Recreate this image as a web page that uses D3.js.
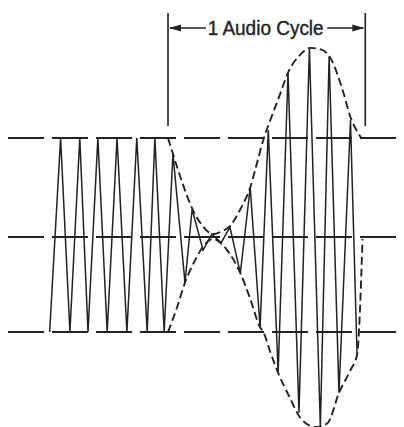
<!DOCTYPE html>
<html>
<head>
<meta charset="utf-8">
<script src="https://cdn.jsdelivr.net/npm/d3@7"></script>
<style>
  html, body { margin: 0; padding: 0; background: #fff; }
  svg { display: block; }
</style>
</head>
<body>
<div id="wrapper"></div>
<script>
// phase in degrees of the audio cycle (0..360 = "1 Audio Cycle"), level in carrier units
const carrierPhase = [-216, -196, -179, -161, -146, -128, -111, -93, -75, -57, -38, -24, -7,
  9, 31, 44, 64, 80, 97, 113, 132, 150, 168, 183, 201, 219, 239, 258, 278, 294, 312, 333, 345];
const carrierLevel = [-1, 1, -1, 1, -1, 1, -1, 1, -1, 1, -1, 1, -1,
  0.84, -0.48, 0.28, -0.14, 0.03, -0.06, 0.1, -0.38, 0.5, -0.95, 1.08, -1.43, 1.66, -1.85, 1.91, -2.0, 1.82, -1.64, 1.18, -1.24];

const upperPhase = [0, 9, 26, 44, 62, 82, 99, 113, 132, 150, 164, 175, 186, 203, 219, 241, 260, 281, 296, 320, 333, 347, 354];
const upperLevel = [1.0, 0.84, 0.55, 0.29, 0.12, 0.03, 0.06, 0.11, 0.28, 0.5, 0.78, 1.0, 1.17, 1.42, 1.66, 1.84, 1.91, 1.89, 1.81, 1.46, 1.21, 1.05, 0.99];

const lowerPhase = [0, 16, 31, 49, 64, 82, 99, 113, 132, 150, 168, 174, 186, 201, 223, 241, 269, 291, 312, 333, 345, 355];
const lowerLevel = [-1.0, -0.75, -0.48, -0.25, -0.1, -0.02, -0.08, -0.18, -0.38, -0.65, -0.95, -1.0, -1.2, -1.43, -1.7, -1.9, -2.0, -1.96, -1.64, -1.4, -1.24, -0.02];

const refLevels = [1, 0, -1];
const cyclePhases = [0, 360];
const cycleLabel = "1 Audio Cycle";

const width = 404;
const height = 427;

const svg = d3.select("#wrapper").append("svg")
  .attr("width", width)
  .attr("height", height);

const xScale = d3.scaleLinear().domain([-292, 427]).range([8, 402]);
const yScale = d3.scaleLinear().domain([-1, 0, 1]).range([332, 237, 138]);

const ink = "#222";

// dashed reference levels
svg.append("g")
  .selectAll("line")
  .data(refLevels)
  .join("line")
  .attr("x1", xScale.range()[0])
  .attr("x2", xScale.range()[1])
  .attr("y1", (d) => yScale(d))
  .attr("y2", (d) => yScale(d))
  .attr("stroke", ink)
  .attr("stroke-width", 1.8)
  .attr("stroke-dasharray", "36,8");

// carrier zigzag
const carrier = carrierPhase.map((p, i) => ({ p, v: carrierLevel[i] }));
const zigzag = d3.line()
  .x((d) => xScale(d.p))
  .y((d) => yScale(d.v));

svg.append("path")
  .attr("d", zigzag(carrier))
  .attr("fill", "none")
  .attr("stroke", ink)
  .attr("stroke-width", 1.5)
  .attr("stroke-linejoin", "miter");

// envelopes
const envLine = d3.line()
  .x((d) => xScale(d.p))
  .y((d) => yScale(d.v))
  .curve(d3.curveMonotoneX);

const upper = upperPhase.map((p, i) => ({ p, v: upperLevel[i] }));
const lower = lowerPhase.map((p, i) => ({ p, v: lowerLevel[i] }));

[upper, lower].forEach((env) => {
  svg.append("path")
    .attr("d", envLine(env))
    .attr("fill", "none")
    .attr("stroke", ink)
    .attr("stroke-width", 1.9)
    .attr("stroke-dasharray", "8,4");
});

// audio cycle bracket
const bracket = svg.append("g");
bracket.selectAll("line")
  .data(cyclePhases)
  .join("line")
  .attr("x1", (d) => xScale(d))
  .attr("x2", (d) => xScale(d))
  .attr("y1", 13)
  .attr("y2", 126)
  .attr("stroke", ink)
  .attr("stroke-width", 1.6);

const xl = xScale(cyclePhases[0]);
const xr = xScale(cyclePhases[1]);
const arrowY = 28;

bracket.append("line")
  .attr("x1", xl + 2).attr("x2", xl + 38)
  .attr("y1", arrowY).attr("y2", arrowY)
  .attr("stroke", ink).attr("stroke-width", 1.6);
bracket.append("line")
  .attr("x1", xr - 38).attr("x2", xr - 2)
  .attr("y1", arrowY).attr("y2", arrowY)
  .attr("stroke", ink).attr("stroke-width", 1.6);

bracket.append("path")
  .attr("d", `M${xl + 1},${arrowY} L${xl + 13},${arrowY - 3.5} L${xl + 13},${arrowY + 3.5} Z`)
  .attr("fill", ink);
bracket.append("path")
  .attr("d", `M${xr - 1},${arrowY} L${xr - 13},${arrowY - 3.5} L${xr - 13},${arrowY + 3.5} Z`)
  .attr("fill", ink);

bracket.append("text")
  .attr("x", (xl + xr) / 2 - 1)
  .attr("y", 35)
  .attr("text-anchor", "middle")
  .attr("font-family", "Liberation Sans, Arial, sans-serif")
  .attr("font-size", 20)
  .attr("textLength", 116)
  .attr("lengthAdjust", "spacingAndGlyphs")
  .attr("fill", ink)
  .attr("stroke", ink)
  .attr("stroke-width", 0.4)
  .text(cycleLabel);
</script>
</body>
</html>
